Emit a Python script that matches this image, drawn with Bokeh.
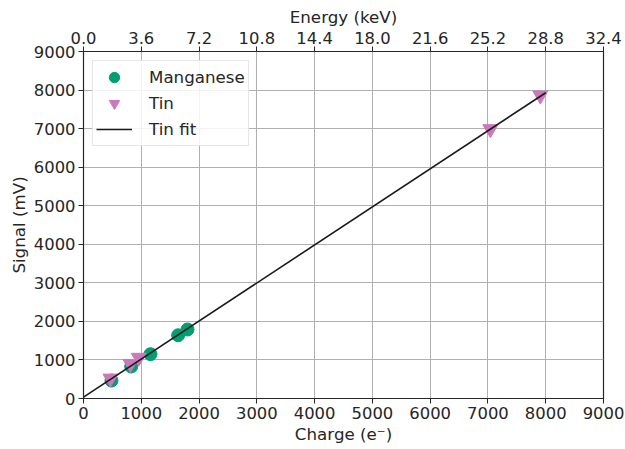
from bokeh.plotting import figure
from bokeh.models import Range1d, LinearAxis, FixedTicker, PrintfTickFormatter, Legend, LegendItem
from bokeh.embed import file_html
from bokeh.resources import INLINE

# Calibration points: charge (electrons) vs. measured signal (mV)
mn_charge = [484, 825, 1159, 1638, 1800]
mn_signal = [466, 830, 1150, 1640, 1790]

sn_charge = [467, 813, 957, 7042, 7907]
sn_signal = [520, 900, 1060, 6990, 7860]

# Linear fit to the tin points
fit_slope = 0.987
fit_intercept = 35.0
fit_x = [0, 8000]
fit_y = [fit_intercept + fit_slope * x for x in fit_x]

charge_ticks = [0, 1000, 2000, 3000, 4000, 5000, 6000, 7000, 8000, 9000]
energy_ticks = [0.0, 3.6, 7.2, 10.8, 14.4, 18.0, 21.6, 25.2, 28.8, 32.4]

TXT = "#262626"
FONT = "DejaVu Sans"

p = figure(width=625, height=449, output_backend="svg", toolbar_location=None,
           x_range=Range1d(0, 9000), y_range=Range1d(0, 9000),
           min_border_left=83, min_border_right=22, min_border_top=51, min_border_bottom=51)
p.extra_x_ranges = {"energy": Range1d(0, 32.4)}

p.outline_line_color = TXT
p.outline_line_width = 1.2
p.background_fill_color = "white"
p.border_fill_color = "white"

p.xgrid.grid_line_color = "#b0b0b0"
p.ygrid.grid_line_color = "#b0b0b0"
p.xgrid.grid_line_width = 1
p.ygrid.grid_line_width = 1

bottom = p.below[0]
left = p.left[0]

top = LinearAxis(x_range_name="energy", axis_label="Energy (keV)")
top.ticker = FixedTicker(ticks=energy_ticks)
top.formatter = PrintfTickFormatter(format="%.1f")
p.add_layout(top, "above")

bottom.ticker = FixedTicker(ticks=charge_ticks)
left.ticker = FixedTicker(ticks=charge_ticks)
bottom.axis_label = "Charge (e⁻)"
left.axis_label = "Signal (mV)"

for ax in (bottom, left, top):
    ax.major_label_text_font = FONT
    ax.major_label_text_font_size = "16.4px"
    ax.major_label_text_color = TXT
    ax.axis_label_text_font = FONT
    ax.axis_label_text_font_size = "16.7px"
    ax.axis_label_text_font_style = "normal"
    ax.axis_label_text_color = TXT
    ax.axis_line_color = TXT
    ax.major_tick_line_color = TXT
    ax.major_tick_out = 5
    ax.major_tick_in = 0
    ax.minor_tick_line_color = None
    ax.axis_label_standoff = 2
    ax.major_label_standoff = 3

mn = p.scatter(mn_charge, mn_signal, marker="circle", size=13,
               fill_color="#029e73", line_color="#029e73")
sn = p.scatter(sn_charge, sn_signal, marker="inverted_triangle", size=15,
               fill_color="#cc78bc", line_color="#cc78bc")
fit = p.line(fit_x, fit_y, line_color="#1a1a1a", line_width=1.6)

legend = Legend(items=[LegendItem(label="Manganese", renderers=[mn]),
                       LegendItem(label="Tin", renderers=[sn]),
                       LegendItem(label="Tin fit", renderers=[fit])],
                location="top_left")
legend.label_text_font = FONT
legend.label_text_font_size = "16.7px"
legend.label_text_color = TXT
legend.border_line_color = "#d0d0d0"
legend.border_line_width = 1
legend.background_fill_alpha = 0.85
legend.glyph_width = 36
legend.glyph_height = 26
legend.label_height = 20
legend.spacing = 0
legend.padding = 3
legend.margin = 9
legend.label_standoff = 17
p.add_layout(legend)

open("out.html", "w").write(file_html(p, INLINE))
